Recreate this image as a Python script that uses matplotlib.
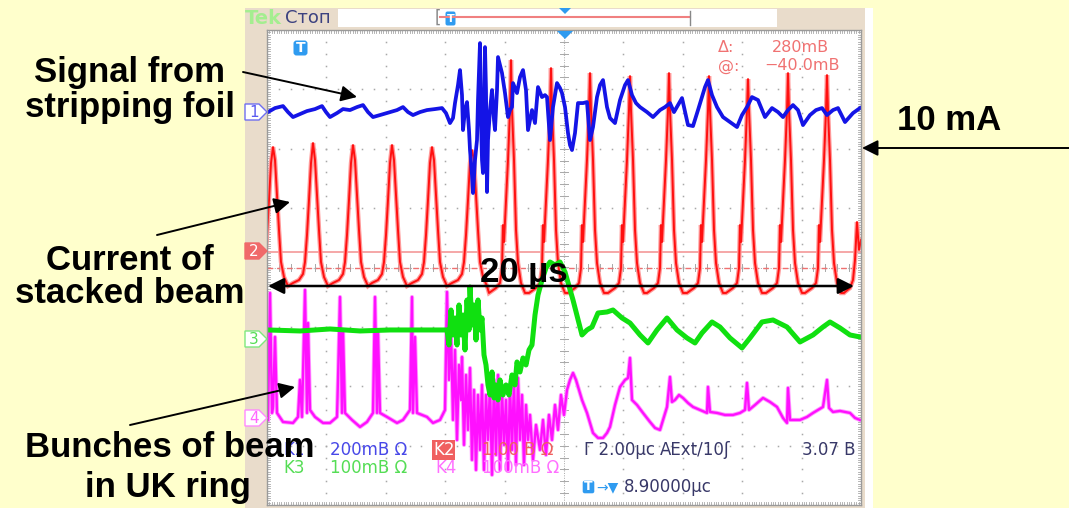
import numpy as np
import matplotlib
matplotlib.use("Agg")
import matplotlib.pyplot as plt
from matplotlib.patches import Rectangle, Polygon, FancyBboxPatch

W, H = 1069, 508
# graticule of the scope screenshot, in picture pixels
GX0, GX1, GY0, GY1 = 267.0, 861.0, 30.0, 505.0
DIV = (GX1 - GX0) / 10.0
US_PER_DIV = 2.0

# CH1 - signal from stripping foil
ch1_x = [268, 275, 283, 288, 293, 300, 307, 315, 322, 326, 330, 337, 343, 350, 357, 363, 368, 373,
         380, 390, 397, 403, 408, 413, 420, 427, 435, 442, 446, 450, 453, 455, 458, 460, 462, 463,
         465, 467, 469, 470, 472, 473, 475, 477, 478, 480, 481, 482, 483, 484, 485, 486, 487, 488,
         490, 492, 494, 495, 497, 498, 500, 502, 505, 508, 510, 512, 513, 515, 517, 520, 523, 526,
         528, 530, 532, 535, 538, 540, 542, 545, 547, 550, 553, 557, 560, 562, 565, 568, 570, 572,
         575, 578, 583, 587, 590, 593, 597, 600, 603, 607, 610, 615, 620, 625, 628, 632, 636, 640,
         647, 653, 660, 665, 670, 674, 678, 682, 688, 693, 698, 705, 708, 712, 717, 723, 730, 737,
         742, 747, 752, 758, 765, 772, 778, 783, 788, 793, 798, 803, 810, 816, 822, 827, 833, 838,
         845, 853, 860]
ch1_y = [112, 108, 106, 112, 117, 114, 111, 109, 106, 112, 117, 113, 109, 110, 107, 105, 112, 117,
         115, 112, 110, 107, 112, 115, 112, 110, 109, 108, 113, 123, 118, 103, 85, 70, 95, 130,
         110, 102, 130, 150, 175, 193, 160, 140, 100, 43, 120, 160, 173, 110, 47, 90, 192, 140,
         110, 90, 120, 130, 90, 57, 65, 73, 93, 117, 110, 107, 83, 88, 93, 77, 70, 90,
         130, 120, 110, 123, 87, 92, 97, 95, 97, 140, 107, 83, 88, 93, 107, 133, 145, 150,
         133, 103, 103, 102, 140, 127, 97, 85, 80, 107, 118, 123, 100, 85, 80, 95, 103, 107,
         112, 117, 110, 107, 103, 112, 105, 98, 125, 126, 110, 87, 80, 95, 107, 117, 122, 127,
         115, 107, 97, 100, 117, 108, 112, 117, 110, 105, 110, 125, 115, 110, 108, 115, 110, 108,
         122, 113, 108]

# CH2 - current of stacked beam: peak positions / tops and two peak shapes
ch2_peak_x = [273, 313, 353, 392, 432, 472, 511, 551, 590, 630, 669, 709, 748, 788, 827]
ch2_peak_top = [147, 143, 145, 145, 147, 150, 60, 68, 73, 76, 73, 76, 79, 73, 75]
ch2_peak_kind = ["pre"] * 6 + ["post"] * 9
ch2_shape_pre = [(-20, 283), (-14, 280), (-10, 274), (-8, 262), (-6, 235), (-4, 200), (-2, 163),
                 (0, None), (2, 160), (4, 195), (6, 230), (8, 262), (11, 277), (15, 286)]
ch2_shape_post = [(-22, 293), (-15, 288), (-11, 283), (-9, 268), (-8, 225), (-7, 242), (-5, 200),
                  (-3, 160), (-1, 110), (0, None), (1, 110), (3, 160), (4, 197), (5, 230),
                  (7, 263), (10, 283), (14, 293), (17, 293)]
ch2_tail_x = [845, 850, 853, 855, 857, 859, 861]
ch2_tail_y = [292, 288, 280, 260, 222, 250, 240]
cursor_solid_y = 252
cursor_dash_y = 268

# CH3 - green
ch3_x = [268, 300, 330, 360, 390, 420, 447, 449, 451, 453, 455, 457, 459, 461, 463, 465, 467, 469,
         470, 472, 474, 476, 478, 480, 482, 484, 486, 488, 490, 492, 494, 496, 498, 500, 503, 506,
         509, 512, 515, 517, 520, 523, 526, 529, 532, 535, 538, 542, 546, 550, 555, 560, 565, 573,
         582, 587, 592, 598, 607, 613, 622, 630, 640, 648, 657, 667, 677, 687, 695, 702, 712, 720,
         730, 742, 750, 762, 773, 787, 800, 813, 823, 830, 840, 850, 860]
ch3_y = [330, 331, 329, 331, 330, 330, 330, 345, 310, 335, 318, 345, 305, 335, 315, 350, 300, 330,
         287, 325, 305, 340, 300, 330, 318, 355, 365, 385, 395, 372, 398, 385, 400, 380, 395, 385,
         395, 375, 385, 362, 372, 358, 365, 350, 345, 315, 295, 280, 268, 262, 265, 262, 272, 300,
         335, 330, 327, 313, 312, 310, 318, 323, 335, 343, 330, 318, 330, 338, 343, 333, 322, 327,
         338, 348, 338, 322, 320, 327, 342, 335, 327, 322, 328, 335, 337]

# CH4 - bunches of beam in UK ring
ch4_x = [268, 270, 272, 273, 275, 277, 283, 293, 298, 300, 302, 305, 307, 308, 310, 315, 323, 330,
         337, 338, 340, 342, 343, 345, 352, 360, 367, 373, 375, 377, 378, 380, 387, 397, 403, 410,
         412, 413, 415, 417, 427, 433, 440, 445, 447, 449, 451, 453, 455, 457, 459, 461, 462, 464,
         466, 468, 470, 472, 474, 476, 478, 480, 482, 484, 486, 488, 490, 492, 494, 496, 498, 500,
         502, 504, 506, 508, 510, 512, 514, 516, 518, 520, 522, 524, 526, 528, 530, 533, 536, 540,
         543, 546, 549, 552, 555, 558, 561, 564, 567, 570, 573, 576, 579, 582, 587, 593, 598, 603,
         607, 610, 615, 620, 625, 628, 630, 632, 637, 643, 650, 655, 660, 663, 667, 670, 672, 675,
         679, 683, 688, 693, 700, 707, 708, 710, 717, 725, 733, 740, 745, 747, 749, 755, 763, 770,
         777, 783, 787, 788, 790, 800, 807, 813, 818, 823, 827, 829, 833, 840, 850, 855, 860]
ch4_y = [420, 293, 413, 407, 337, 413, 422, 423, 417, 380, 417, 290, 413, 323, 410, 417, 423, 423,
         417, 380, 297, 413, 330, 413, 420, 427, 422, 413, 297, 413, 333, 413, 417, 423, 420, 410,
         297, 413, 337, 413, 417, 423, 420, 410, 292, 380, 330, 420, 350, 440, 365, 400, 357, 445,
         375, 430, 368, 460, 390, 470, 395, 450, 385, 470, 395, 440, 385, 475, 380, 455, 375, 470,
         390, 445, 400, 470, 385, 450, 380, 465, 378, 440, 395, 465, 405, 440, 415, 460, 425, 450,
         420, 455, 415, 440, 405, 430, 395, 415, 390, 380, 373, 380, 390, 400, 413, 433, 438, 438,
         433, 427, 405, 387, 380, 378, 358, 400, 405, 413, 422, 428, 430, 420, 407, 377, 402, 400,
         395, 398, 403, 407, 410, 413, 387, 412, 413, 415, 415, 413, 410, 383, 410, 405, 398, 402,
         407, 418, 423, 388, 420, 420, 417, 413, 410, 407, 380, 408, 412, 411, 413, 418, 420]

marker_levels = {"1": 112, "2": 251, "3": 339, "4": 418}


def scope(px, py):
    px = np.asarray(px, float)
    py = np.asarray(py, float)
    return (px - GX0) / DIV * US_PER_DIV, ((GY0 + GY1) / 2 - py) / DIV


# build CH2 from its digitised peaks
ch2_x, ch2_y = [], []
for c, top, kind in zip(ch2_peak_x, ch2_peak_top, ch2_peak_kind):
    shape = ch2_shape_pre if kind == "pre" else ch2_shape_post
    for dx, y in shape:
        ch2_x.append(c + dx)
        ch2_y.append(top if y is None else y)
ch2_x += ch2_tail_x
ch2_y += ch2_tail_y

YELLOW = "#ffffcc"
BEIGE = "#e9dccb"

fig = plt.figure(figsize=(W / 100, H / 100), dpi=100)
fig.patch.set_facecolor(YELLOW)

bg = fig.add_axes([0, 0, 1, 1], zorder=0)
bg.set_xlim(0, W); bg.set_ylim(H, 0); bg.axis("off")
bg.add_patch(Rectangle((245, 8), 628, 500, color=BEIGE, lw=0))
bg.add_patch(Rectangle((865, 8), 8, 500, color="white", lw=0))
bg.add_patch(Rectangle((338, 9), 439, 18, color="white", lw=0))

sc = fig.add_axes([GX0 / W, (H - GY1) / H, (GX1 - GX0) / W, (GY1 - GY0) / H], zorder=1)
sc.set_xlim(0, 20); sc.set_ylim(-4, 4)
sc.set_facecolor("white")
for s in sc.spines.values():
    s.set_color("#9a9a9a"); s.set_linewidth(1.0)
sc.set_xticks([]); sc.set_yticks([])

# graticule dots
grid_c = "#a8a8a8"
for k in range(1, 10):
    vv = np.arange(-4, 4.001, 0.2)
    sc.plot(np.full_like(vv, 2 * k), vv, ls="none", marker="s", ms=1.1, color=grid_c, mew=0)
for k in range(1, 8):
    tt = np.arange(0, 20.001, 0.4)
    sc.plot(tt, np.full_like(tt, k - 4), ls="none", marker="s", ms=1.1, color=grid_c, mew=0)
# centre cross with minor ticks
sc.plot([10, 10], [-4, 4], color=grid_c, lw=0.7, ls=(0, (1, 1.5)))
sc.plot([0, 20], [0, 0], color=grid_c, lw=0.7, ls=(0, (1, 1.5)))
for v in np.arange(-4, 4.001, 0.2):
    sc.plot([9.88, 10.12], [v, v], color=grid_c, lw=0.7)
for t in np.arange(0, 20.001, 0.4):
    sc.plot([t, t], [-0.06, 0.06], color=grid_c, lw=0.7)
# border ticks
for t in np.arange(0, 20.001, 0.08):
    sc.plot([t, t], [3.95, 4], color=grid_c, lw=0.6)
    sc.plot([t, t], [-4, -3.95], color=grid_c, lw=0.6)
for v in np.arange(-4, 4.001, 0.04):
    sc.plot([0, 0.1], [v, v], color=grid_c, lw=0.6)
    sc.plot([19.9, 20], [v, v], color=grid_c, lw=0.6)

# cursors
_, vs = scope([0], [cursor_solid_y])
_, vd = scope([0], [cursor_dash_y])
sc.axhline(vs[0], color="#f4a0a0", lw=1.3)
sc.axhline(vd[0], color="#f07070", lw=1.0, ls=(0, (4, 3)))

# traces
t, v = scope(ch2_x, ch2_y)
sc.plot(t, v, color="#ff9a9a", lw=3.2, solid_joinstyle="miter")
sc.plot(t, v, color="#ff1010", lw=1.4)
t, v = scope(ch1_x, ch1_y)
sc.plot(t, v, color="#1414e6", lw=2.7)
t, v = scope(ch4_x, ch4_y)
sc.plot(t, v, color="#ff9cff", lw=3.0)
sc.plot(t, v, color="#ff10ff", lw=1.7)
t, v = scope(ch3_x, ch3_y)
sc.plot(t, v, color="#10e010", lw=3.6)

ov = fig.add_axes([0, 0, 1, 1], zorder=2)
ov.set_xlim(0, W); ov.set_ylim(H, 0); ov.axis("off")
ov.patch.set_alpha(0)

mono = dict(family="DejaVu Sans")
# top bar
ov.text(245, 18, "Tek", color="#a4ee90", fontsize=14, fontweight="bold", va="center", **mono)
ov.text(285, 18, "Стоп", color="#3c4280", fontsize=13, va="center", **mono)
ov.text(435, 18, "[", color="#888888", fontsize=12, va="center", **mono)
ov.plot([440, 690], [17, 17], color="#f08080", lw=1.5)
ov.plot([690, 690], [11, 25], color="#888888", lw=1)
ov.add_patch(FancyBboxPatch((446, 12), 9, 13, boxstyle="round,pad=0.5,rounding_size=2",
                            color="#2f9bf0", lw=0))
ov.text(450.5, 18.5, "T", color="white", fontsize=8, fontweight="bold", ha="center", va="center")
ov.add_patch(Polygon([(559, 8), (571, 8), (565, 14)], color="#2f9bf0", lw=0))
ov.add_patch(Polygon([(557, 31), (573, 31), (565, 39)], color="#2f9bf0", lw=0))
# trigger T icon on screen
ov.add_patch(FancyBboxPatch((294, 41), 13, 14, boxstyle="round,pad=0.5,rounding_size=3",
                            color="#2f9bf0", lw=0))
ov.text(300.5, 48, "T", color="white", fontsize=10, fontweight="bold", ha="center", va="center")

# channel markers
mk_style = {"1": ("white", "#6e6ef0", "#5a5af0"), "2": ("#f06a6a", "#f06a6a", "white"),
            "3": ("white", "#7ee87e", "#55dd55"), "4": ("white", "#ff88ff", "#ff66ff")}
for name, yy in marker_levels.items():
    fc, ec, tc = mk_style[name]
    ov.add_patch(Polygon([(245, yy - 8), (259, yy - 8), (267, yy), (259, yy + 8), (245, yy + 8)],
                         facecolor=fc, edgecolor=ec, lw=1.0))
    ov.text(254, yy + 0.5, name, color=tc, fontsize=11, ha="center", va="center", **mono)

# cursor readout
cur_c = "#f07272"
ov.text(718, 47, "Δ:", color=cur_c, fontsize=11.5, va="center", **mono)
ov.text(829, 47, "280mB", color=cur_c, fontsize=11.5, va="center", ha="right", **mono)
ov.text(718, 66, "@:", color=cur_c, fontsize=11.5, va="center", **mono)
ov.text(840, 66, "−40.0mB", color=cur_c, fontsize=11.5, va="center", ha="right", **mono)

# bottom readout
fs = 12
ov.text(283, 450, "K1", color="#4848e8", fontsize=fs, va="center", **mono)
ov.text(330, 450, "200mB Ω", color="#4848e8", fontsize=fs, va="center", **mono)
ov.text(433, 450, "K2", color="white", fontsize=fs, va="center",
        bbox=dict(boxstyle="square,pad=0.05", fc="#f06060", ec="none"), **mono)
ov.text(482, 450, "1.00 B Ω", color="#f06060", fontsize=fs, va="center", **mono)
ov.text(584, 450, "Γ 2.00µc", color="#383868", fontsize=fs, va="center", **mono)
ov.text(660, 450, "AExt/10ʃ", color="#383868", fontsize=fs, va="center", **mono)
ov.text(855, 450, "3.07 B", color="#383868", fontsize=fs, va="center", ha="right", **mono)
ov.text(283, 468, "K3", color="#55dd55", fontsize=fs, va="center", **mono)
ov.text(330, 468, "100mB Ω", color="#55dd55", fontsize=fs, va="center", **mono)
ov.text(435, 468, "K4", color="#ff70ff", fontsize=fs, va="center", **mono)
ov.text(482, 468, "100mB Ω", color="#ff70ff", fontsize=fs, va="center", **mono)
ov.add_patch(FancyBboxPatch((583, 481), 11, 12, boxstyle="round,pad=0.3,rounding_size=2",
                            color="#2f9bf0", lw=0))
ov.text(588.5, 487, "T", color="white", fontsize=9, fontweight="bold", ha="center", va="center")
ov.text(596, 487, "→▼", color="#2f9bf0", fontsize=10, va="center", **mono)
ov.text(624, 487, "8.90000µc", color="#383868", fontsize=fs, va="center", **mono)

# annotations
ann = dict(family=["Liberation Sans", "DejaVu Sans"], fontsize=25, fontweight="bold", color="black")
ov.text(130, 82, "Signal from", ha="center", va="baseline", **ann)
ov.text(130, 117, "stripping foil", ha="center", va="baseline", **ann)
ov.text(130, 270, "Current of", ha="center", va="baseline", **ann)
ov.text(130, 303, "stacked beam", ha="center", va="baseline", **ann)
ov.text(170, 457, "Bunches of beam", ha="center", va="baseline", **ann)
ov.text(168, 497, "in UK ring", ha="center", va="baseline", **ann)
ov.text(897, 130, "10 mA", ha="left", va="baseline", **ann)
ov.text(480, 282, "20 µs", ha="left", va="baseline", **ann)

arr = dict(arrowstyle="-|>", color="black", lw=1.4, mutation_scale=24, shrinkA=0, shrinkB=0)
ov.annotate("", xy=(357, 97), xytext=(243, 72), arrowprops=arr)
ov.annotate("", xy=(290, 202), xytext=(157, 235), arrowprops=arr)
ov.annotate("", xy=(295, 387), xytext=(130, 425), arrowprops=arr)
ov.annotate("", xy=(862, 148), xytext=(1069, 148), arrowprops=arr)
ov.annotate("", xy=(854, 286), xytext=(268, 286),
            arrowprops=dict(arrowstyle="<|-|>", color="black", lw=1.8, mutation_scale=24,
                            shrinkA=0, shrinkB=0))

fig.savefig("out.png", dpi=100, facecolor=fig.get_facecolor())
